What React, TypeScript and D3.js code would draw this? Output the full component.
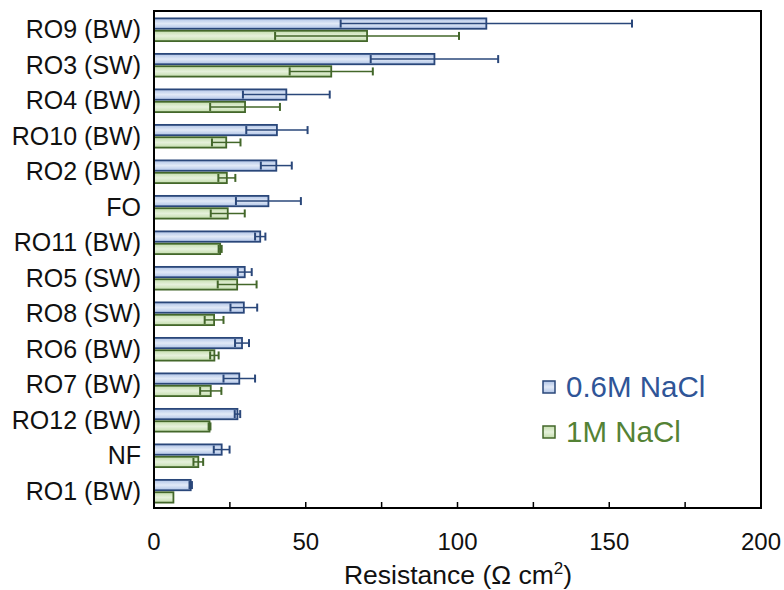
import React from "react";
import * as d3 from "d3";

const categories = [
  "RO9 (BW)", "RO3 (SW)", "RO4 (BW)", "RO10 (BW)", "RO2 (BW)", "FO", "RO11 (BW)",
  "RO5 (SW)", "RO8 (SW)", "RO6 (BW)", "RO7 (BW)", "RO12 (BW)", "NF", "RO1 (BW)",
];
const series06 = [109.5, 92.4, 43.6, 40.5, 40.3, 37.7, 35.0, 29.9, 29.6, 29.0, 28.1, 27.5, 22.3, 12.1];
const err06 = [48, 21, 14.3, 10.1, 5.1, 10.7, 1.7, 2.3, 4.4, 2.3, 5.2, 0.9, 2.6, 0.4];
const series1 = [70.2, 58.4, 30.0, 23.8, 24.0, 24.3, 21.8, 27.4, 19.8, 19.9, 18.7, 18.3, 14.6, 6.4];
const err1 = [30.3, 13.7, 11.5, 4.7, 2.8, 5.6, 0.5, 6.4, 3.1, 1.4, 3.5, 0.3, 1.6, 0];
const xTicks = [0, 50, 100, 150, 200];
const xMinorTicks = [25, 75, 125, 175];
const seriesNames = ["0.6M NaCl", "1M NaCl"];

const W = 784, H = 590;
const M = { left: 154, right: 761, top: 11, bottom: 508 };
const FONT = "'Liberation Sans', Arial, Helvetica, sans-serif";

const colors = {
  blueStroke: "#2a477a",
  blueEdge: "#afc3e6",
  blueMid: "#e2eaf7",
  greenStroke: "#43672a",
  greenEdge: "#c3ddac",
  greenMid: "#e6f1dc",
  blueText: "#2f5597",
  greenText: "#548235",
};

export default function App() {
  const x = d3.scaleLinear().domain([0, 200]).range([M.left, M.right]);
  const y = d3.scaleBand<string>().domain(categories).range([M.top, M.bottom]).paddingInner(0.36).paddingOuter(0.18);
  const sub = d3.scaleBand<string>().domain(["a", "b"]).range([0, y.bandwidth()]).paddingInner(0.16);
  const bh = sub.bandwidth();
  const shift = 1;

  const bars = categories.flatMap((c, i) => [
    { c, key: "a", v: series06[i], e: err06[i], stroke: colors.blueStroke, fill: "url(#gBlue)" },
    { c, key: "b", v: series1[i], e: err1[i], stroke: colors.greenStroke, fill: "url(#gGreen)" },
  ]);

  return (
    <svg width={W} height={H} style={{ position: "absolute", left: 0, top: 0, background: "#fff" }} fontFamily={FONT}>
      <defs>
        <linearGradient id="gBlue" x1="0" y1="0" x2="0" y2="1">
          <stop offset="0" stopColor={colors.blueEdge} />
          <stop offset="0.5" stopColor={colors.blueMid} />
          <stop offset="1" stopColor={colors.blueEdge} />
        </linearGradient>
        <linearGradient id="gGreen" x1="0" y1="0" x2="0" y2="1">
          <stop offset="0" stopColor={colors.greenEdge} />
          <stop offset="0.5" stopColor={colors.greenMid} />
          <stop offset="1" stopColor={colors.greenEdge} />
        </linearGradient>
      </defs>
      <rect x={0} y={0} width={W} height={H} fill="#fff" />

      {bars.map((b, i) => {
        const yy = (y(b.c) as number) + (sub(b.key) as number) + shift;
        const cy = yy + bh / 2;
        return (
          <g key={i}>
            <rect x={x(0)} y={yy} width={x(b.v) - x(0)} height={bh} fill={b.fill} stroke={b.stroke} strokeWidth={1.8} />
            {b.e > 0 && (
              <g stroke={b.stroke} strokeWidth={1.5}>
                <line x1={x(b.v - b.e)} x2={x(b.v + b.e)} y1={cy} y2={cy} />
                <line x1={x(b.v - b.e)} x2={x(b.v - b.e)} y1={cy - 4} y2={cy + 4} strokeWidth={2} />
                <line x1={x(b.v + b.e)} x2={x(b.v + b.e)} y1={cy - 4} y2={cy + 4} strokeWidth={2} />
              </g>
            )}
          </g>
        );
      })}

      {/* frame */}
      <rect x={M.left} y={M.top} width={M.right - M.left} height={M.bottom - M.top} fill="none" stroke="#000" strokeWidth={2} />
      {[...xTicks, ...xMinorTicks].map((t) => (
        <line key={t} x1={x(t)} x2={x(t)} y1={M.bottom} y2={M.bottom - 6} stroke="#000" strokeWidth={1.5} />
      ))}
      {xTicks.map((t) => (
        <text key={t} x={x(t)} y={550} textAnchor="middle" fontSize={24} fill="#111">
          {t}
        </text>
      ))}
      {categories.map((c) => (
        <text key={c} x={141} y={(y(c) as number) + y.bandwidth() / 2 + shift + 8.5} textAnchor="end" fontSize={25} fill="#111">
          {c}
        </text>
      ))}
      <text x={458} y={584} textAnchor="middle" fontSize={26.5} fill="#111">
        Resistance (Ω cm<tspan dy={-10} fontSize={17}>2</tspan><tspan dy={10}>)</tspan>
      </text>

      {/* legend */}
      {seriesNames.map((s, i) => {
        const ly = 387 + i * 45;
        return (
          <g key={s}>
            <rect x={543} y={ly - 6} width={12} height={12} fill={i === 0 ? "url(#gBlue)" : "url(#gGreen)"} stroke={i === 0 ? colors.blueStroke : colors.greenStroke} strokeWidth={1.5} />
            <text x={566} y={ly + 10} fontSize={29.5} fill={i === 0 ? colors.blueText : colors.greenText}>
              {s}
            </text>
          </g>
        );
      })}
    </svg>
  );
}
